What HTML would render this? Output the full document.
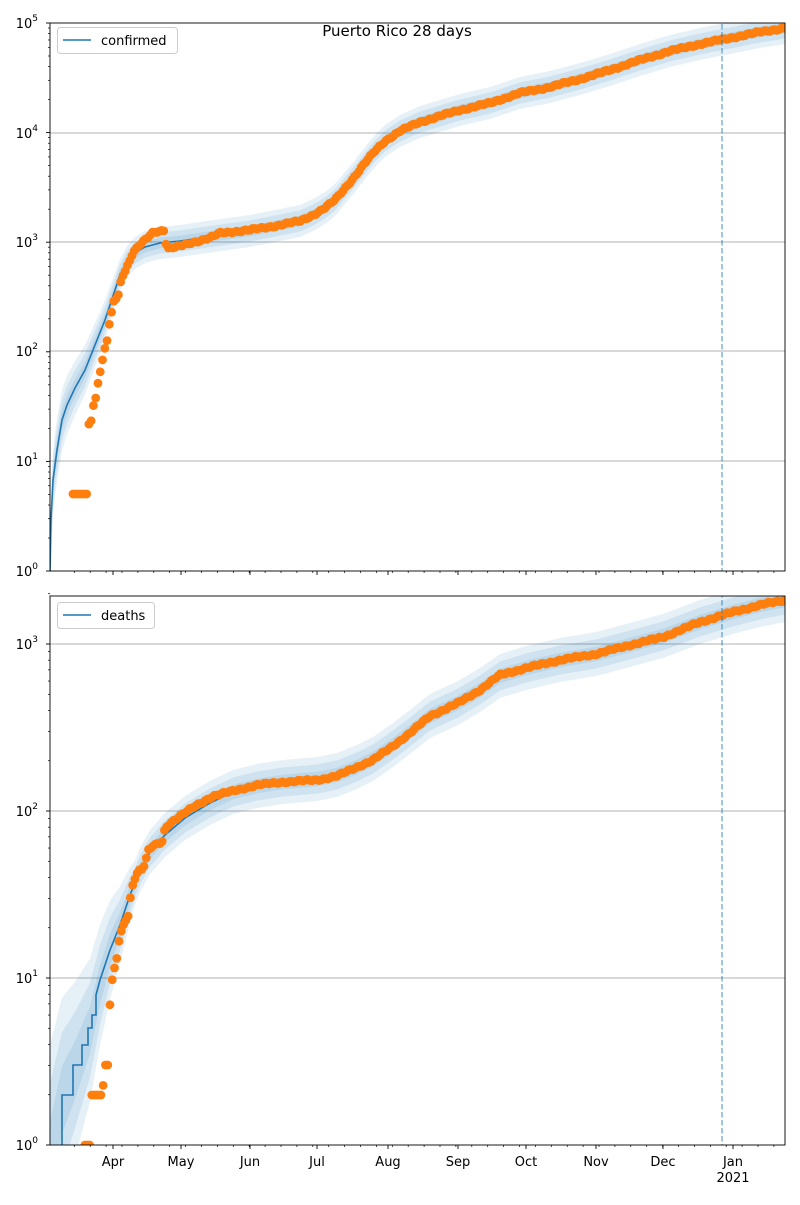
<!DOCTYPE html>
<html><head><meta charset="utf-8"><style>
body{margin:0;background:#fff;font-family:"Liberation Sans","DejaVu Sans",sans-serif;}
svg text{font-family:"DejaVu Sans","Liberation Sans",sans-serif;font-size:13px;fill:#000}
</style></head><body>
<svg id="s" width="800" height="1200" xmlns="http://www.w3.org/2000/svg">
<rect width="800" height="1200" fill="#fff"/>
<defs>
<clipPath id="c1"><rect x="50" y="23" width="735" height="548"/></clipPath>
<clipPath id="c2"><rect x="50" y="596" width="735" height="549"/></clipPath>
</defs>
<g id="g1" clip-path="url(#c1)"></g>
<g id="g2" clip-path="url(#c2)"></g>
<g id="ax"></g>
<text x="397" y="36" text-anchor="middle" style="font-size:15px">Puerto Rico 28 days</text>
<g text-anchor="end">
<text x="38" y="576">10<tspan dy="-7" style="font-size:9px">0</tspan></text>
<text x="38" y="466">10<tspan dy="-7" style="font-size:9px">1</tspan></text>
<text x="38" y="356">10<tspan dy="-7" style="font-size:9px">2</tspan></text>
<text x="38" y="247">10<tspan dy="-7" style="font-size:9px">3</tspan></text>
<text x="38" y="138">10<tspan dy="-7" style="font-size:9px">4</tspan></text>
<text x="38" y="28">10<tspan dy="-7" style="font-size:9px">5</tspan></text>
<text x="38" y="1150">10<tspan dy="-7" style="font-size:9px">0</tspan></text>
<text x="38" y="983">10<tspan dy="-7" style="font-size:9px">1</tspan></text>
<text x="38" y="816">10<tspan dy="-7" style="font-size:9px">2</tspan></text>
<text x="38" y="649">10<tspan dy="-7" style="font-size:9px">3</tspan></text>
</g>
<g text-anchor="middle">
<text x="113" y="1166">Apr</text><text x="181" y="1166">May</text><text x="250" y="1166">Jun</text>
<text x="317" y="1166">Jul</text><text x="388" y="1166">Aug</text><text x="458" y="1166">Sep</text>
<text x="526" y="1166">Oct</text><text x="596" y="1166">Nov</text><text x="663" y="1166">Dec</text>
<text x="733" y="1166">Jan</text><text x="733" y="1182">2021</text>
</g>
<rect x="57.5" y="27.5" width="120" height="26" rx="3" fill="#fff" fill-opacity="0.8" stroke="#ccc"/>
<line x1="63" y1="40" x2="91" y2="40" stroke="#1f77b4" stroke-width="1.5"/>
<text x="101" y="45">confirmed</text>
<rect x="57.5" y="602.5" width="97" height="26" rx="3" fill="#fff" fill-opacity="0.8" stroke="#ccc"/>
<line x1="63" y1="615" x2="91" y2="615" stroke="#1f77b4" stroke-width="1.5"/>
<text x="101" y="620">deaths</text>
</svg>
<script>
var NS="http://www.w3.org/2000/svg";
function el(p,t,a){var e=document.createElementNS(NS,t);for(var k in a)e.setAttribute(k,a[k]);p.appendChild(e);return e;}
function interp(P,x){if(x<=P[0][0])return P[0][1];for(var i=1;i<P.length;i++){if(x<=P[i][0]){var a=P[i-1],b=P[i];if(b[0]==a[0])return b[1];return a[1]+(b[1]-a[1])*(x-a[0])/(b[0]-a[0]);}}return P[P.length-1][1];}
var cdots=[[73,494],[87,494],[87.5,445],[88,425],[91,422],[93,407],[96,397],[98,383],[100,373],[102,363],[104,351],[107,341],[109,326],[112,310],[113,302],[118,297],[121,280],[127,267],[133,253],[138,247],[147,238],[153,232],[165,230],[166.5,249],[177,247],[190,243],[210,238],[220,233],[250,230],[280,225],[300,221],[315,214],[325,208],[335,200],[345,188],[355,176],[365,163],[375,151],[385,141],[400,131],[420,122],[440,116],[460,110],[490,103],[520,93],[550,87],[580,79],[610,70],[640,60],[670,51],[700,44],[730,38],[760,32],[785,28]];
var cline=[[50,571],[51,520],[53,480],[57,450],[62,420],[67,405],[75,388],[85,370],[95,345],[105,320],[115,290],[120,275],[127,262],[135,253],[145,247],[160,243],[180,241],[200,238],[250,231],[280,225],[300,221],[315,214],[325,208],[335,200],[345,188],[355,176],[365,163],[375,151],[385,141],[400,131],[420,122],[440,116],[460,110],[490,103],[520,93],[550,87],[580,79],[610,70],[640,60],[670,51],[700,44],[730,38],[760,32],[785,28]];
var ddots=[[85,1145],[91,1145],[91.5,1095],[103,1095],[103.5,1065],[108,1065],[109,1015],[111,994],[113,971],[116,965],[118,948],[120,935],[123,926],[127,917],[129,914],[131,891],[134,880],[138,871],[143,869],[146,860],[148,851],[153,846],[162,842],[165,828],[170,823],[183,814],[197,805],[213,796],[233,791],[257,785],[283,782],[317,780],[337,776],[357,767],[373,760],[393,746],[410,733],[430,716],[458,703],[480,690],[500,675],[526,668],[560,660],[596,654],[630,645],[663,637],[700,622],[733,612],[760,605],[785,600]];
var dline=[[62,1160],[62,1095],[73,1095],[73,1065],[82,1065],[82,1045],[88,1045],[88,1028],[92,1028],[92,1015],[96,1015],[96,995],[100,980],[110,950],[120,925],[130,895],[140,870],[150,852],[165,835],[185,818],[210,803],[233,792],[257,786],[283,782],[317,779],[337,775],[357,767],[373,759],[393,745],[410,732],[430,716],[458,703],[480,690],[500,676],[526,668],[560,660],[596,654],[630,645],[663,636],[700,622],[733,612],[760,605],[785,600]];
var dsmooth=[[50,1160],[62,1100],[75,1070],[90,1030],[100,985],[110,950],[120,925],[130,895],[140,870],[150,852],[165,835],[185,818],[210,803]].concat(dline.slice(21));
function bands(g,L,x0,wf,bot){
  var ws=[1,0.66,0.33];
  ws.forEach(function(f){
    var up=[],lo=[];
    for(var x=x0;x<=786;x+=2){var y=interp(L,x),w=wf(x)*f;up.push(x+","+(y-w));lo.push(x+","+Math.min(bot+20,y+w));}
    el(g,"polygon",{points:up.concat(lo.reverse()).join(" "),fill:"#1f77b4","fill-opacity":"0.11"});
  });
}
function dots(g,D,x0){
  var i=0;
  for(var x=x0;x<=786;x+=2.27){i++;var j=(x>125)?(Math.sin(i*1.7)*0.7+Math.sin(i*0.37)*0.5):0;el(g,"circle",{cx:x,cy:interp(D,x)+j,r:4.4,fill:"#ff7f0e"});}
}
function line(g,L){el(g,"polyline",{points:L.map(function(p){return p.join(",")}).join(" "),fill:"none",stroke:"#1f77b4","stroke-width":1.6});}
var g1=document.getElementById("g1"),g2=document.getElementById("g2"),ax=document.getElementById("ax");
[461,351,242,133].forEach(function(y){el(g1,"line",{x1:50,x2:785,y1:y,y2:y,stroke:"#b0b0b0","stroke-width":0.9});});
[978,811,644].forEach(function(y){el(g2,"line",{x1:50,x2:785,y1:y,y2:y,stroke:"#b0b0b0","stroke-width":0.9});});
bands(g1,cline,50,function(x){return 16+Math.max(0,120-x)*0.25;},571);
line(g1,cline);
dots(g1,cdots,73);
bands(g2,dsmooth,50,function(x){return 22+Math.max(0,135-x)*1.1;},1145);
line(g2,dline);
dots(g2,ddots,85);
[g1,g2].forEach(function(g){el(g,"line",{x1:722,x2:722,y1:0,y2:1200,stroke:"#1f77b4","stroke-opacity":0.55,"stroke-width":1.5,"stroke-dasharray":"5.5,2.5"});});
el(ax,"rect",{x:50,y:23,width:735,height:548,fill:"none",stroke:"#000","stroke-width":0.9});
el(ax,"rect",{x:50,y:596,width:735,height:549,fill:"none",stroke:"#000","stroke-width":0.9});
var months=[113,181,250,317,388,458,526,596,663,733];
[571,1145].forEach(function(yb){
  months.forEach(function(x){el(ax,"line",{x1:x,x2:x,y1:yb,y2:yb+4,stroke:"#000","stroke-width":0.9});});
  for(var x=113-3*15.9+9;x<785;x+=15.9){if(x>50)el(ax,"line",{x1:x,x2:x,y1:yb,y2:yb+2,stroke:"#000","stroke-width":0.7});}
});
function yt(base,dec,n){for(var d=0;d<n;d++){var y=base-d*dec;el(ax,"line",{x1:46,x2:50,y1:y,y2:y,stroke:"#000","stroke-width":0.9});
 for(var m=2;m<10;m++){var ym=y-Math.log10(m)*dec;if(ym>=base-(n-1)*dec-dec*0.33-1)el(ax,"line",{x1:48,x2:50,y1:ym,y2:ym,stroke:"#000","stroke-width":0.7});}}}
yt(571,109.6,6);
yt(1145,167,4);
</script>
</body></html>
